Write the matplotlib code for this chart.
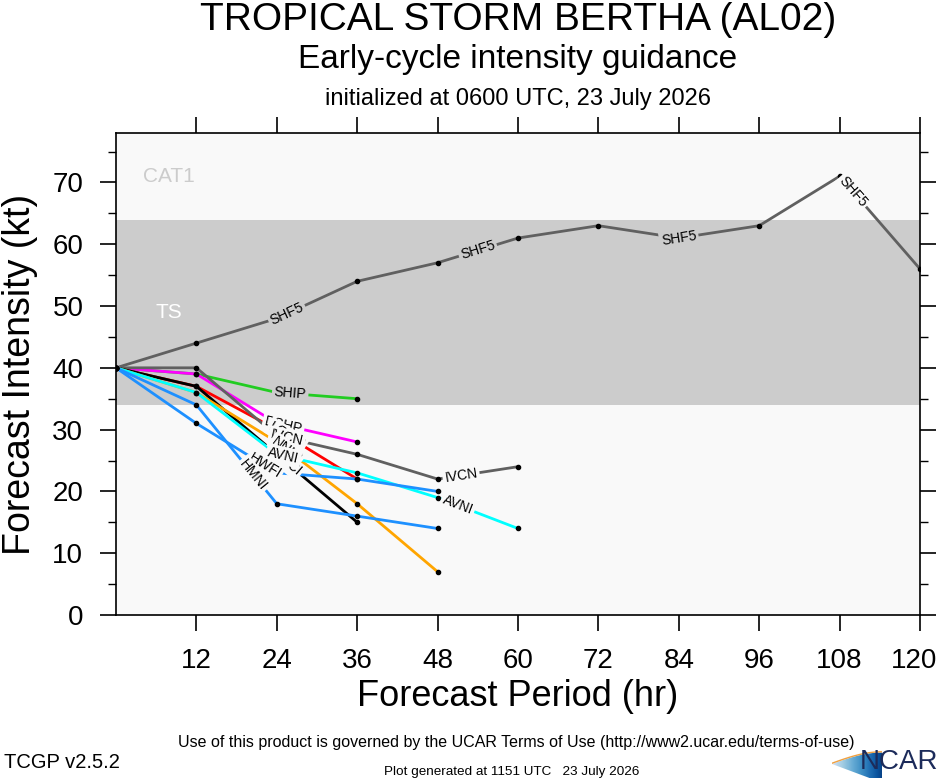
import matplotlib
matplotlib.use("Agg")
import matplotlib.pyplot as plt
import numpy as np
from matplotlib.patches import Polygon
from matplotlib.transforms import ScaledTranslation

plt.rcParams["font.family"] = ["Liberation Sans", "DejaVu Sans"]

# forecast hours and model intensities (kt)
hours = [0, 12, 24, 36, 48, 60, 72, 84, 96, 108, 120]
shf5 = [40, 44, 48, 54, 57, 61, 63, 61, 63, 71, 56]
ship = [40, 39, 36, 35]
dshp = [40, 39, 31, 28]
lgem = [40, 37, 30, 22]
ivcn = [40, 40, 29, 26, 22, 24]
ctci = [40, 37, 26, 15]
nnic = [40, 36, 28, 18, 7]
avni = [40, 36, 26, 23, 19, 14]
hwfi = [40, 31, 23, 22, 20]
hmni = [40, 34, 18, 16, 14]

models = ["SHF5", "SHIP", "DSHP", "LGEM", "IVCN", "CTCI", "NNIC", "AVNI", "HWFI", "HMNI"]
series = [shf5, ship, dshp, lgem, ivcn, ctci, nnic, avni, hwfi, hmni]
colors = ["#606060", "#22cc22", "#ff00ff", "#ff0000", "#606060", "#000000",
          "#ffa500", "#00ffff", "#1e90ff", "#1e90ff"]
# hours at which each model's name is written on its line
label_hours = [[25.5, 54, 84, 110], [26], [25], [25.5], [25.5, 51.5], [25.5],
               [25.5], [25, 51], [22.2], [20.5]]

TS_LOW, CAT1_LOW, YTOP = 34, 64, 78
LIGHT, BAND = "#f9f9f9", "#cccccc"

fig = plt.figure(figsize=(9.4, 7.8), dpi=100)
ax = fig.add_axes([116 / 940, 165 / 780, 804 / 940, 482 / 780])
ax.set_xlim(0, 120)
ax.set_ylim(0, YTOP)
ax.set_facecolor(LIGHT)
ax.axhspan(TS_LOW, CAT1_LOW, color=BAND, zorder=0, lw=0)
ax.text(7.9, 71, "CAT1", color="#cccccc", fontsize=15, ha="center", va="center")
ax.text(7.9, 49, "TS", color="white", fontsize=15, ha="center", va="center")

for vals, col in zip(series, colors):
    h = hours[:len(vals)]
    ax.plot(h, vals, color=col, lw=2, zorder=2, solid_capstyle="butt")
    ax.plot(h, vals, "o", color="black", ms=3, zorder=3)

fig.canvas.draw()
for name, vals, lhs in zip(models, series, label_hours):
    h = hours[:len(vals)]
    for lh in lhs:
        ly = np.interp(lh, h, vals)
        i = min(np.searchsorted(h, lh, side="right") - 1, len(h) - 2)
        p0 = ax.transData.transform((h[i], vals[i]))
        p1 = ax.transData.transform((h[i + 1], vals[i + 1]))
        ang = np.degrees(np.arctan2(p1[1] - p0[1], p1[0] - p0[0]))
        bg = BAND if TS_LOW <= ly <= CAT1_LOW else LIGHT
        ax.text(lh, ly, name, fontsize=10, ha="center", va="center",
                rotation=ang, rotation_mode="anchor", zorder=4,
                bbox=dict(facecolor=bg, edgecolor="none", pad=1.5))

ax.set_xticks(range(12, 121, 12))
ax.set_yticks(range(0, 71, 10))
ax.set_yticks(range(5, 78, 10), minor=True)
ax.tick_params(axis="both", which="major", direction="out", length=11.5, width=1.2,
               labelsize=20, pad=12)
ax.tick_params(axis="y", which="minor", direction="out", length=5.8, width=1.0)
ax.tick_params(top=True, right=True, labeltop=False, labelright=False)
ax.tick_params(axis="y", which="minor", right=True)
for s in ax.spines.values():
    s.set_linewidth(1.2)
# keep the last hour label inside the figure
last = ax.get_xticklabels()[-1]
last.set_transform(last.get_transform() + ScaledTranslation(-6 / 100, 0, fig.dpi_scale_trans))

ax.set_xlabel("Forecast Period (hr)", fontsize=26, labelpad=4)
ax.set_ylabel("Forecast Intensity (kt)", fontsize=27, labelpad=10)

cx = (116 + 920) / 2 / 940
fig.text(cx, 1 - 30 / 780, "TROPICAL STORM BERTHA (AL02)", fontsize=28,
         ha="center", va="baseline")
fig.text(cx, 1 - 68 / 780, "Early-cycle intensity guidance", fontsize=24,
         ha="center", va="baseline")
fig.text(cx, 1 - 105 / 780, "initialized at 0600 UTC, 23 July 2026", fontsize=17,
         ha="center", va="baseline")

fig.text(516 / 940, 1 - 743 / 780,
         "Use of this product is governed by the UCAR Terms of Use (http://www2.ucar.edu/terms-of-use)",
         fontsize=11.5, ha="center", va="center")
fig.text(4 / 940, 1 - 762 / 780, "TCGP v2.5.2", fontsize=14.5, ha="left", va="center")
fig.text(512 / 940, 1 - 772 / 780, "Plot generated at 1151 UTC   23 July 2026",
         fontsize=9.7, ha="center", va="center")

# NCAR logo: blue swoosh and lettering
lax = fig.add_axes([832 / 940, 2 / 780, 50 / 940, 28 / 780])
lax.set_axis_off()
grad = np.linspace(0, 1, 64)[None, :]
img = lax.imshow(grad, cmap="Blues", vmin=-0.3, vmax=1.1, aspect="auto",
                 extent=[0, 1, 0, 1])
tt = np.linspace(0, 1, 30)
top = np.column_stack([tt, 0.55 + 0.45 * np.sin(tt * np.pi / 2)])
shape = np.vstack([[[0, 0.55]], top, [[1, 0]], [[0.75, 0]]])
clip = Polygon(shape, closed=True, transform=lax.transData, facecolor="none",
               edgecolor="none")
lax.add_patch(clip)
img.set_clip_path(clip)
lax.plot(top[:, 0], top[:, 1] + 0.03, color="#f0a040", lw=1)
lax.set_xlim(0, 1)
lax.set_ylim(0, 1.1)
fig.text(938 / 940, 1 - 762 / 780, "NCAR", fontsize=20, color="#1c2b5a",
         ha="right", va="center")

fig.savefig("out.png", dpi=100)
